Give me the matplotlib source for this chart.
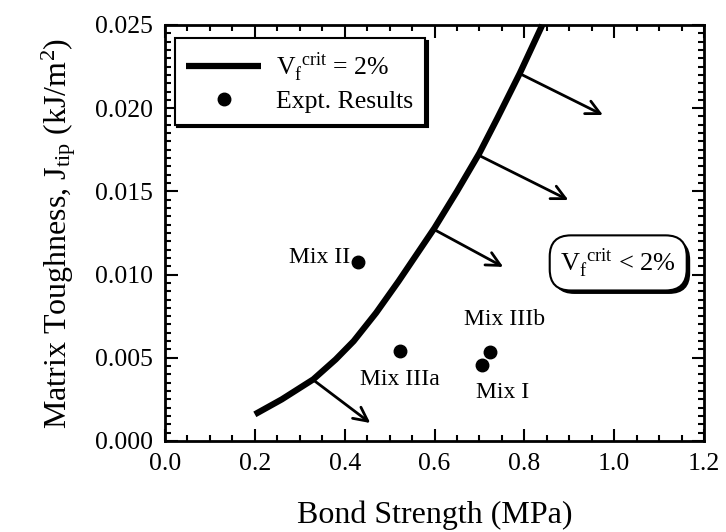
import numpy as np
import matplotlib.pyplot as plt
from matplotlib.ticker import MultipleLocator
from matplotlib import patheffects

plt.rcParams['font.family'] = 'Liberation Serif'
plt.rcParams['mathtext.fontset'] = 'custom'
plt.rcParams['mathtext.rm'] = 'Liberation Serif'
plt.rcParams['mathtext.it'] = 'Liberation Serif'

# critical curve, Vf_crit = 2%
curve_x = [0.20, 0.26, 0.33, 0.38, 0.42, 0.47, 0.52, 0.56, 0.60, 0.65, 0.70, 0.74, 0.79, 0.84]
curve_y = [0.0016, 0.0025, 0.0037, 0.0049, 0.0060, 0.0077, 0.0096, 0.0112, 0.0128, 0.0150,
           0.0173, 0.0194, 0.0221, 0.0250]

# experimental mixes
mix_names = ['Mix I', 'Mix II', 'Mix IIIa', 'Mix IIIb']
mix_x = [0.706, 0.430, 0.523, 0.724]
mix_y = [0.00457, 0.01076, 0.0054, 0.00535]

# arrows pointing into the Vf_crit < 2% region (start on curve -> end)
arrow_start = [(0.330, 0.00367), (0.601, 0.01268), (0.697, 0.01719), (0.791, 0.02206)]
arrow_end = [(0.457, 0.00108), (0.753, 0.01046), (0.898, 0.01448), (0.975, 0.01959)]

fig = plt.figure(figsize=(7.26, 5.32), dpi=100)
ax = fig.add_axes([0.2273, 0.1711, 0.7424, 0.782])

ax.plot(curve_x, curve_y, color='k', lw=4.5, solid_capstyle='butt',
        label=r'$\mathrm{V_f^{\ \,crit}}$ = 2%', clip_on=False)
ax.plot(mix_x, mix_y, 'o', color='k', ms=9, ls='none', label='Expt. Results')

for s, e in zip(arrow_start, arrow_end):
    ax.annotate('', xy=e, xytext=s,
                arrowprops=dict(arrowstyle='->,head_length=1.0,head_width=0.5',
                                color='k', lw=2, shrinkA=0, shrinkB=0))

# mix labels
ax.text(0.412, 0.0110, 'Mix II', ha='right', va='center', fontsize=17)
ax.text(0.523, 0.0037, 'Mix IIIa', ha='center', va='center', fontsize=17)
ax.text(0.755, 0.0073, 'Mix IIIb', ha='center', va='center', fontsize=17)
ax.text(0.751, 0.0029, 'Mix I', ha='center', va='center', fontsize=17)

t = ax.text(1.009, 0.0107, r'$\mathrm{V_f^{\ \,crit}}$ < 2%', ha='center', va='center',
            fontsize=19,
            bbox=dict(boxstyle='round,pad=0.4,rounding_size=0.8', fc='white', ec='k', lw=1.5))
t.get_bbox_patch().set_path_effects([
    patheffects.SimplePatchShadow(offset=(2.5, -2.5), shadow_rgbFace='k', alpha=1),
    patheffects.Normal()])

leg = ax.legend(loc='upper left', bbox_to_anchor=(0.018, 0.968), fontsize=18.5,
                frameon=True, fancybox=False, edgecolor='k', framealpha=1,
                handlelength=2.9, handletextpad=0.6, borderpad=0.45, labelspacing=0.25,
                borderaxespad=0,
                shadow={'color': 'k', 'alpha': 1})
leg.get_frame().set_linewidth(1.5)

ax.set_xlim(0, 1.2)
ax.set_ylim(0, 0.025)
ax.xaxis.set_major_locator(MultipleLocator(0.2))
ax.xaxis.set_minor_locator(MultipleLocator(0.05))
ax.yaxis.set_major_locator(MultipleLocator(0.005))
ax.yaxis.set_minor_locator(MultipleLocator(0.0005))
ax.xaxis.set_major_formatter(plt.FormatStrFormatter('%.1f'))
ax.yaxis.set_major_formatter(plt.FormatStrFormatter('%.3f'))
ax.tick_params(which='both', direction='in', top=True, right=True, width=1.5, labelsize=18.5)
ax.tick_params(which='major', length=9, pad=9)
ax.tick_params(which='minor', length=4.5)
for sp in ax.spines.values():
    sp.set_linewidth(2)

ax.set_xlabel('Bond Strength (MPa)', fontsize=23, labelpad=18)
ax.set_ylabel(r'Matrix Toughness, $\mathrm{J_{tip}}$ (kJ/m$\mathrm{^2}$)', fontsize=23, labelpad=12)

fig.savefig('out.png', dpi=100)
